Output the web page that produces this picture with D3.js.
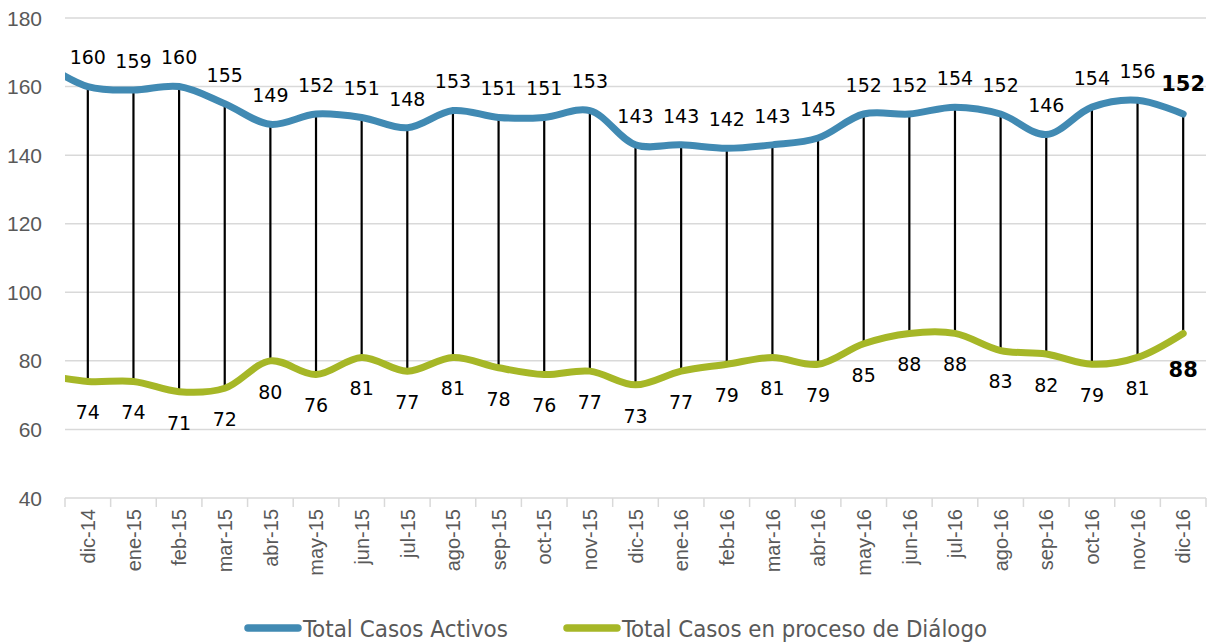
<!DOCTYPE html>
<html>
<head>
<meta charset="utf-8">
<script src="https://cdn.jsdelivr.net/npm/d3@7"></script>
<style>
  body { margin: 0; background: #fff; }
  svg { display: block; }
</style>
</head>
<body>
<svg id="chart" width="1214" height="643"></svg>
<script>
// donnees
var meses = ["dic-14","ene-15","feb-15","mar-15","abr-15","may-15","jun-15","jul-15","ago-15",
  "sep-15","oct-15","nov-15","dic-15","ene-16","feb-16","mar-16","abr-16","may-16","jun-16",
  "jul-16","ago-16","sep-16","oct-16","nov-16","dic-16"];
var casosActivos = [160,159,160,155,149,152,151,148,153,151,151,153,143,143,142,143,145,152,152,154,152,146,154,156,152];
var casosDialogo = [74,74,71,72,80,76,81,77,81,78,76,77,73,77,79,81,79,85,88,88,83,82,79,81,88];
// point precedent (hors cadre, la courbe arrive du bord gauche)
var activosAntes = 167;
var dialogoAntes = 76;
var yTicks = [40,60,80,100,120,140,160,180];

var colActivos = "#418AB3";
var colDialogo = "#A6B727";
var grey = "#595959";

let svg = d3.select("#chart");
let pLeft = 65, pRight = 1206, pTop = 18, pBottom = 498;

let x = d3.scaleBand().domain(meses).range([pLeft, pRight]);
let y = d3.scaleLinear().domain([40, 180]).range([pBottom, pTop]);
let cx = d => x(d) + x.bandwidth() / 2;

// grille
svg.append("g").selectAll("line")
  .data(yTicks.filter(t => t > 40))
  .enter().append("line")
  .attr("x1", pLeft).attr("x2", pRight)
  .attr("y1", d => y(d)).attr("y2", d => y(d))
  .attr("stroke", "#d9d9d9").attr("stroke-width", 1.5);

// axe y
svg.append("g").selectAll("text")
  .data(yTicks)
  .enter().append("text")
  .attr("x", 42).attr("y", d => y(d))
  .attr("dy", "0.36em")
  .attr("text-anchor", "end")
  .attr("font-family", "Liberation Sans, Arial, sans-serif")
  .attr("font-size", 21)
  .attr("fill", grey)
  .text(d => d);

// axe x
let xAxis = svg.append("g");
xAxis.append("line")
  .attr("x1", pLeft).attr("x2", pRight)
  .attr("y1", pBottom).attr("y2", pBottom)
  .attr("stroke", "#d9d9d9").attr("stroke-width", 1.5);
let bounds = meses.map(m => x(m)).concat([pRight]);
xAxis.selectAll(".tick")
  .data(bounds)
  .enter().append("line")
  .attr("class", "tick")
  .attr("x1", d => d).attr("x2", d => d)
  .attr("y1", pBottom).attr("y2", pBottom + 9)
  .attr("stroke", "#d9d9d9").attr("stroke-width", 1.5);
xAxis.selectAll("text")
  .data(meses)
  .enter().append("text")
  .attr("transform", d => "translate(" + cx(d) + "," + (pBottom + 11) + ") rotate(-90)")
  .attr("text-anchor", "end")
  .attr("dy", "0.36em")
  .attr("font-family", "Liberation Sans, Arial, sans-serif")
  .attr("font-size", 20)
  .attr("fill", grey)
  .text(d => d);

// lignes verticales
svg.append("g").selectAll("line")
  .data(meses)
  .enter().append("line")
  .attr("x1", d => cx(d)).attr("x2", d => cx(d))
  .attr("y1", (d, i) => y(casosActivos[i]))
  .attr("y2", (d, i) => y(casosDialogo[i]))
  .attr("stroke", "#000").attr("stroke-width", 2.2);

// courbes
svg.append("clipPath").attr("id", "clip")
  .append("rect").attr("x", pLeft).attr("y", 0).attr("width", pRight - pLeft).attr("height", pBottom);

let line = d3.line()
  .x(d => d[0]).y(d => y(d[1]))
  .curve(d3.curveCatmullRom.alpha(0.5));

function serie(antes, vals){
  let pts = [[cx(meses[0]) - x.step(), antes]];
  meses.forEach((m, i) => pts.push([cx(m), vals[i]]));
  return pts;
}

svg.append("path")
  .attr("d", line(serie(dialogoAntes, casosDialogo)))
  .attr("clip-path", "url(#clip)")
  .attr("fill", "none").attr("stroke", colDialogo)
  .attr("stroke-width", 7).attr("stroke-linecap", "round");

svg.append("path")
  .attr("d", line(serie(activosAntes, casosActivos)))
  .attr("clip-path", "url(#clip)")
  .attr("fill", "none").attr("stroke", colActivos)
  .attr("stroke-width", 7).attr("stroke-linecap", "round");

// etiquettes
let last = meses.length - 1;
svg.append("g").selectAll("text")
  .data(meses)
  .enter().append("text")
  .attr("x", d => cx(d))
  .attr("y", (d, i) => y(casosActivos[i]) - (i === last ? 31 : 29))
  .attr("dy", "0.36em")
  .attr("text-anchor", "middle")
  .attr("font-family", "DejaVu Sans, Verdana, sans-serif")
  .attr("font-size", (d, i) => i === last ? 21 : 19)
  .attr("font-weight", (d, i) => i === last ? "bold" : "normal")
  .attr("fill", "#000")
  .text((d, i) => casosActivos[i]);

svg.append("g").selectAll("text")
  .data(meses)
  .enter().append("text")
  .attr("x", d => cx(d))
  .attr("y", (d, i) => y(casosDialogo[i]) + (i === last ? 36 : 31))
  .attr("dy", "0.36em")
  .attr("text-anchor", "middle")
  .attr("font-family", "DejaVu Sans, Verdana, sans-serif")
  .attr("font-size", (d, i) => i === last ? 21 : 19)
  .attr("font-weight", (d, i) => i === last ? "bold" : "normal")
  .attr("fill", "#000")
  .text((d, i) => casosDialogo[i]);

// legende
let legende = [
  {nom: "Total Casos Activos", col: colActivos, x0: 245, w: 205},
  {nom: "Total Casos en proceso de Diálogo", col: colDialogo, x0: 564, w: 365}
];
let lg = svg.append("g").selectAll("g")
  .data(legende)
  .enter().append("g");
lg.append("line")
  .attr("x1", d => d.x0 + 3).attr("x2", d => d.x0 + 53)
  .attr("y1", 628).attr("y2", 628)
  .attr("stroke", d => d.col).attr("stroke-width", 7.5)
  .attr("stroke-linecap", "round");
lg.append("text")
  .attr("x", d => d.x0 + 58).attr("y", 637)
  .attr("font-family", "DejaVu Sans Condensed, Liberation Sans Narrow, Liberation Sans, sans-serif")
  .attr("font-size", 23)
  .attr("fill", grey)
  .attr("textLength", d => d.w)
  .attr("lengthAdjust", "spacingAndGlyphs")
  .text(d => d.nom);
</script>
</body>
</html>
